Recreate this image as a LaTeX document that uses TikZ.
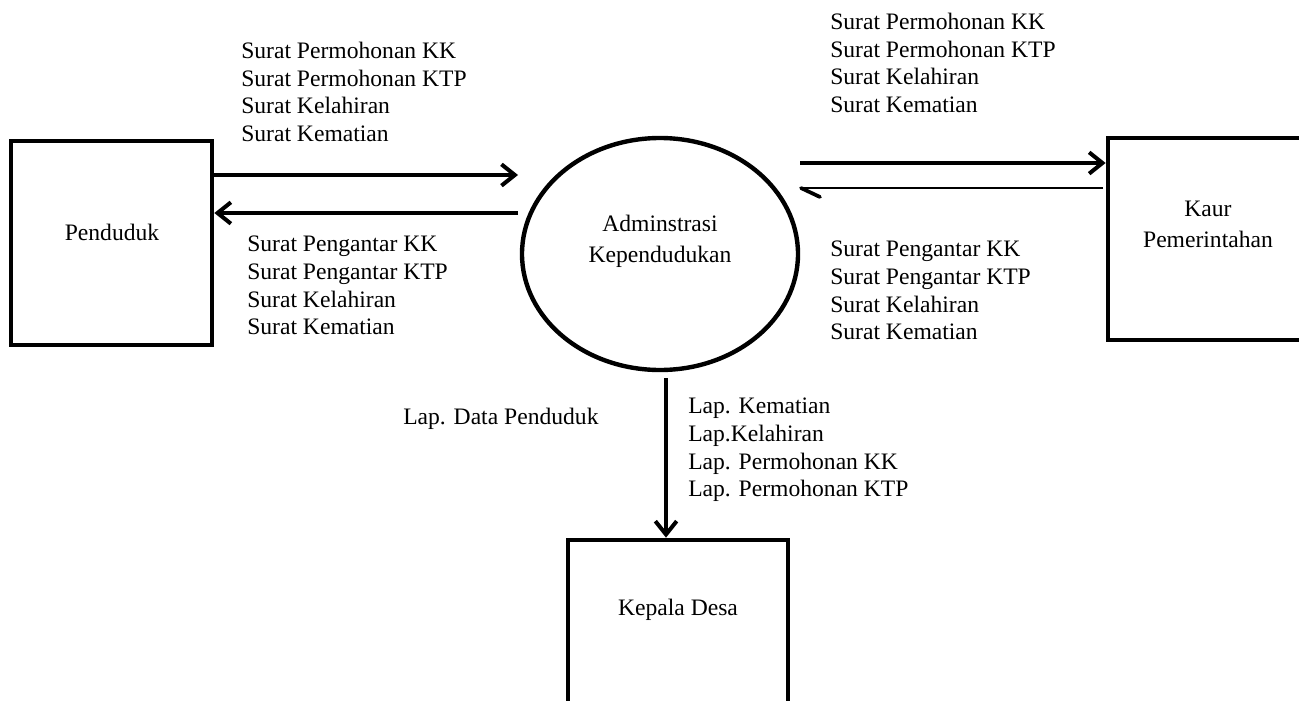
\documentclass[tikz,border=0pt]{standalone}
\usepackage{fontspec}
\setmainfont{Liberation Serif}
\usetikzlibrary{arrows.meta,shapes.geometric}
\begin{document}
\begin{tikzpicture}[x=0.75pt,y=-0.75pt,
  box/.style={draw, line width=3.5pt, inner sep=0pt},
  proc/.style={draw, ellipse, line width=3.3pt, inner sep=0pt},
  txt/.style={font=\fontsize{17.7}{20.7}\selectfont, inner sep=0pt},
  lst/.style={txt, align=left, anchor=north west},
  ctr/.style={font=\fontsize{17.7}{23.25}\selectfont, inner sep=0pt, align=center},
  flow/.style={line width=3pt, -{Straight Barb[length=10pt,width=16pt]}},
  thinflow/.style={line width=1.5pt},
  halfbarb/.style={line width=2.8pt, line cap=round}
]
\clip (0,0) rectangle (1299,700);
% entities
\node[box, minimum width=201*0.75pt, minimum height=204*0.75pt] (pend) at (111.5,243) {};
\node[box, minimum width=202*0.75pt, minimum height=202*0.75pt] (kaur) at (1209,239) {};
\node[box, minimum width=220*0.75pt, minimum height=220*0.75pt] (kep) at (678,650) {};
\node[proc, minimum width=276*0.75pt, minimum height=232*0.75pt] (adm) at (660,254) {};
% entity texts
\node[txt, anchor=base] (pendt) at (112,240) {Penduduk};
\node[ctr, anchor=north] (admt) at (660,215) {Adminstrasi\\Kependudukan};
\node[ctr, anchor=north] (kaurt) at (1208,201) {Kaur\\Pemerintahan};
\node[txt, anchor=base] (kept) at (678,615) {Kepala Desa};
% connectors
\coordinate (p1) at (518,175);
\coordinate (p2) at (518,213);
\coordinate (p3) at (800,163);
\coordinate (p4) at (801,188);
\coordinate (p4s) at (1103,188);
\coordinate (p4b) at (820,197);
\coordinate (p5) at (666,378);
\draw[flow] (pend.east |- p1) -- (p1);
\draw[flow] (p2) -- (pend.east |- p2);
\draw[flow] (p3) -- (kaur.west |- p3);
\draw[thinflow] (p4s) -- (p4);
\draw[halfbarb] (p4) -- (p4b);
\draw[flow] (p5) -- (p5 |- kep.north);
% labels
\node[lst] (l1) at (241,42) {Surat Permohonan KK\\Surat Permohonan KTP\\Surat Kelahiran\\Surat Kematian};
\node[lst] (l2) at (247,236) {Surat Pengantar KK\\Surat Pengantar KTP\\Surat Kelahiran\\Surat Kematian};
\node[lst] (l3) at (830,13) {Surat Permohonan KK\\Surat Permohonan KTP\\Surat Kelahiran\\Surat Kematian};
\node[lst] (l4) at (830,241) {Surat Pengantar KK\\Surat Pengantar KTP\\Surat Kelahiran\\Surat Kematian};
\node[lst] (l5) at (688,398) {Lap. Kematian\\Lap.Kelahiran\\Lap. Permohonan KK\\Lap. Permohonan KTP};
\node[txt, anchor=base west] (l6) at (403,424) {Lap. Data Penduduk};
\end{tikzpicture}
\end{document}
